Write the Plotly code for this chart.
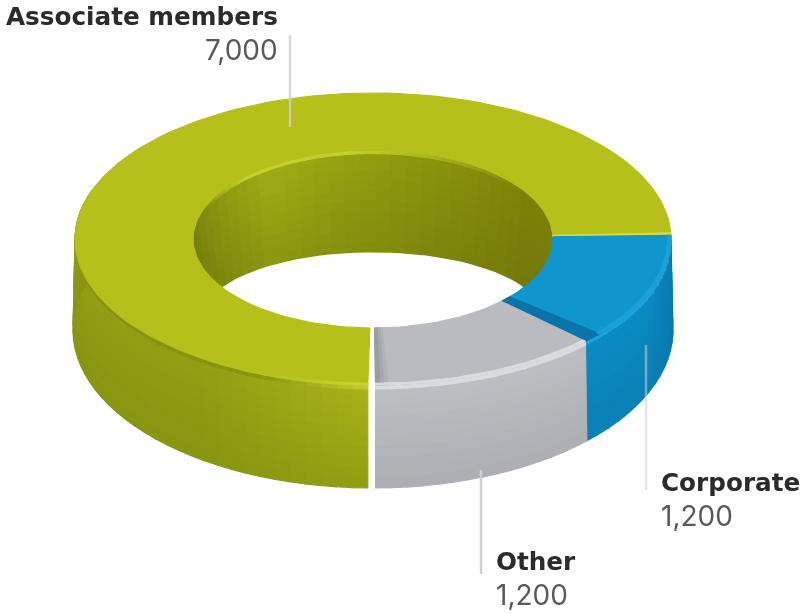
import math
import plotly.graph_objects as go

# Data
categories = ["Associate members", "Corporate", "Other"]
members = [7000, 1200, 1200]

# Ring geometry in page pixels
CX = 373
TOP_OUT = (CX, 239, 298, 146)
TOP_IN = (CX, 239, 180, 89)
BOT_OUT = (CX, 330, 300, 158)
BOT_IN = (CX, 318, 170, 65)
START_ANGLE = 90.5
GAP = 0.5

GREEN_TOP = (181, 192, 26)
BLUE_TOP = (14, 150, 205)
GRAY_TOP = (185, 187, 192)


def pt(ell, deg):
    cx, cy, a, b = ell
    return cx + a * math.cos(math.radians(deg)), cy + b * math.sin(math.radians(deg))


def mix(c1, c2, f):
    f = max(0, min(1, f))
    return tuple(c1[i] + (c2[i] - c1[i]) * f for i in range(3))


def css(c):
    return "rgb(%d,%d,%d)" % tuple(round(v) for v in c)


def lerp_pt(p, q, t):
    return p[0] + (q[0] - p[0]) * t, p[1] + (q[1] - p[1]) * t


fig = go.Figure()


def poly(points, color):
    xs = [p[0] for p in points] + [points[0][0]]
    ys = [p[1] for p in points] + [points[0][1]]
    fig.add_trace(go.Scatter(x=xs, y=ys, mode="lines", fill="toself", fillcolor=css(color),
                             line=dict(color=css(color), width=1.2), hoverinfo="skip", showlegend=False))


def frange(a, b, step):
    n = max(1, int(round((b - a) / step)))
    return [a + (b - a) * i / n for i in range(n + 1)]


def arc_band(e1, e2, a0, a1, color, step=2):
    # Band between two ellipses from angle a0 to a1
    angs = frange(a0, a1, step)
    poly([pt(e1, a) for a in angs] + [pt(e2, a) for a in reversed(angs)], color)


def scaled(f):
    # Ellipse part way across the top face, 0 = outer edge, 1 = inner edge
    return (CX, 239, TOP_OUT[2] + (TOP_IN[2] - TOP_OUT[2]) * f, TOP_OUT[3] + (TOP_IN[3] - TOP_OUT[3]) * f)


# Slice angles come from the values, running clockwise from six o'clock
total = sum(members)
sweeps = [v / total * 360 for v in members]
assoc = (START_ANGLE + GAP, START_ANGLE + sweeps[0])
corp = (assoc[1], assoc[1] + sweeps[1])
other = (corp[1] - 360, corp[1] - 360 + sweeps[2] - GAP * 2)
corp = (corp[0] - 360, corp[1] - 360)


def inner_shade(a, t):
    # Back wall of the hole
    if a < 235:
        base = mix((116, 128, 14), (160, 175, 20), (a - 185) / 50)
    else:
        base = mix((160, 175, 20), (124, 129, 8), (a - 235) / 95)
    return mix(base, (100, 108, 8), t * 0.35)


def green_wall(a, t):
    base = mix((146, 159, 20), (136, 150, 16), t)
    if a < 125:
        base = mix(mix((170, 180, 24), (146, 158, 18), t), base, (a - 90) / 35)
    if t < 0.05:
        base = mix((198, 206, 46), mix((126, 139, 13), base, 0.4), (a - 90) / 22)
    return base


def blue_wall(a, t):
    base = mix((10, 140, 195), (10, 128, 182), t)
    base = mix(base, (8, 118, 172), (25 - a) / 25)
    if t < 0.05:
        base = mix(base, (36, 168, 224), 0.8)
    return base


def gray_wall(a, t):
    base = mix((190, 191, 195), (172, 174, 179), t)
    if t < 0.05:
        base = (218, 219, 222)
    return base


rows = [0, 0.05, 0.1, 0.2, 0.3, 0.4, 0.5, 0.6, 0.7, 0.8, 0.9, 1]


def wall(a0, a1, shade, step=3):
    angs = frange(a0, a1, step)
    for a, b in zip(angs[:-1], angs[1:]):
        for t0, t1 in zip(rows[:-1], rows[1:]):
            poly([lerp_pt(pt(TOP_OUT, a), pt(BOT_OUT, a), t0),
                  lerp_pt(pt(TOP_OUT, b), pt(BOT_OUT, b), t0),
                  lerp_pt(pt(TOP_OUT, b), pt(BOT_OUT, b), t1),
                  lerp_pt(pt(TOP_OUT, a), pt(BOT_OUT, a), t1)], shade((a + b) / 2, (t0 + t1) / 2))


# Hole wall, then its lit rim, then the white see-through part
angs = frange(170, 372, 5)
for a, b in zip(angs[:-1], angs[1:]):
    for t0, t1 in zip(rows[:-1], rows[1:]):
        poly([lerp_pt(pt(TOP_IN, a), pt(BOT_IN, a), t0),
              lerp_pt(pt(TOP_IN, b), pt(BOT_IN, b), t0),
              lerp_pt(pt(TOP_IN, b), pt(BOT_IN, b), t1),
              lerp_pt(pt(TOP_IN, a), pt(BOT_IN, a), t1)], inner_shade((a + b) / 2, (t0 + t1) / 2))

rim_low = (CX, 241.5, 179, 88)
rim_angles = frange(200, 320, 3)
for a, b in zip(rim_angles[:-1], rim_angles[1:]):
    glow = min((a - 200) / 25, (320 - a) / 60, 1)
    arc_band(TOP_IN, rim_low, a, b, mix(inner_shade(a, 0), (204, 214, 52), glow * 0.85))

poly([pt(BOT_IN, a) for a in frange(0, 360, 4)], (255, 255, 255))

# Outer walls
wall(assoc[0], 200, green_wall)
wall(corp[0], corp[1], blue_wall)
wall(other[0], other[1], gray_wall)

# Top faces
arc_band(TOP_OUT, TOP_IN, assoc[0], assoc[1], GREEN_TOP)
glow_angles = frange(assoc[0], 112, 3)
for a, b in zip(glow_angles[:-1], glow_angles[1:]):
    arc_band(TOP_OUT, scaled(0.03), a, b, mix((204, 212, 52), GREEN_TOP, (a - 90) / 20))
arc_band(TOP_OUT, TOP_IN, assoc[1] - 1.0, assoc[1], (214, 220, 58))

arc_band(TOP_OUT, TOP_IN, corp[0], corp[1], BLUE_TOP)
arc_band(TOP_OUT, TOP_IN, corp[1] - 4, corp[1], (8, 116, 170))
arc_band(TOP_OUT, scaled(0.03), corp[0], corp[1] - 4, (28, 160, 216))

arc_band(TOP_OUT, TOP_IN, other[0], other[1], GRAY_TOP)
arc_band(TOP_OUT, TOP_IN, other[1] - 2.4, other[1] - 1.6, (176, 178, 184))
arc_band(TOP_OUT, TOP_IN, other[1] - 1.6, other[1] - 0.8, (166, 168, 175))
arc_band(TOP_OUT, TOP_IN, other[1] - 0.8, other[1], (154, 157, 164))
arc_band(TOP_OUT, scaled(0.03), other[0], other[1], (218, 219, 222))

# Leader lines sit over the ring
leaders = [((290, 35), (290, 127), "rgba(205,207,212,0.8)"),
           ((646, 345), (646, 490), "rgba(205,207,212,0.55)"),
           ((481, 470), (481, 574), "rgb(205,207,212)")]
for p, q, col in leaders:
    fig.add_shape(type="line", x0=p[0], y0=p[1], x1=q[0], y1=q[1], line=dict(color=col, width=2.5))

# Labels: name then value
label_spots = [(280, 16, "right"), (659, 482, "left"), (494, 561, "left")]
for name, value, (x, y, anchor) in zip(categories, members, label_spots):
    fig.add_annotation(x=x, y=y, text=name, showarrow=False, xanchor=anchor, yanchor="middle",
                       font=dict(family="DejaVu Sans", size=24.7, color="#2b2b2e", weight="bold"))
    fig.add_annotation(x=x, y=y + 34, text=f"{value:,}", showarrow=False, xanchor=anchor, yanchor="middle",
                       font=dict(family="Inter", size=28, color="#5a5a5e"))

fig.update_layout(
    width=800, height=613,
    margin=dict(l=0, r=0, t=0, b=0),
    paper_bgcolor="white", plot_bgcolor="white",
    showlegend=False,
    xaxis=dict(range=[0, 800], visible=False, fixedrange=True),
    yaxis=dict(range=[613, 0], visible=False, fixedrange=True),
)

# Reference is a soft, low resolution picture
soften = """
document.body.style.margin = '0';
document.querySelectorAll('.main-svg').forEach(function (s) { s.style.filter = 'blur(0.7px)'; });
"""
fig.write_html("out.html", config={"displayModeBar": False}, post_script=soften)
